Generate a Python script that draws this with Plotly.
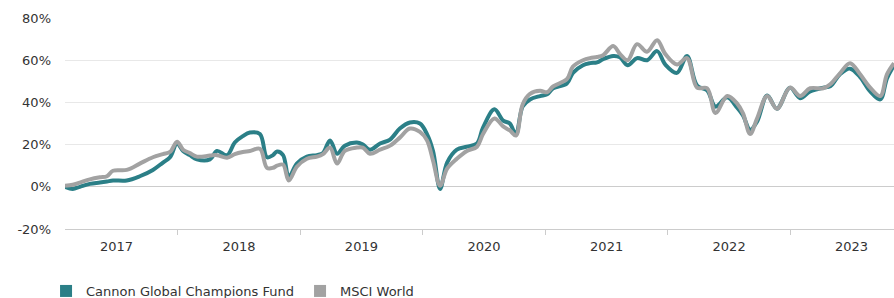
import plotly.graph_objects as go

dates = [
    "2017-02-27", "2017-03-22", "2017-04-12", "2017-05-12", "2017-06-11", "2017-07-02",
    "2017-07-20", "2017-08-30", "2017-10-08", "2017-11-16", "2017-12-16", "2018-01-06",
    "2018-01-27", "2018-02-14", "2018-03-06", "2018-03-27", "2018-05-05", "2018-05-26",
    "2018-06-25", "2018-07-18", "2018-08-11", "2018-09-01", "2018-10-01", "2018-10-22",
    "2018-11-09", "2018-11-21", "2018-12-09", "2018-12-26", "2019-01-19", "2019-02-18",
    "2019-03-20", "2019-04-07", "2019-04-28", "2019-05-19", "2019-06-11", "2019-07-17",
    "2019-08-04", "2019-08-25", "2019-09-24", "2019-10-24", "2019-11-22", "2019-12-22",
    "2020-01-21", "2020-02-11", "2020-02-29", "2020-03-21", "2020-04-11", "2020-05-10",
    "2020-06-09", "2020-07-09", "2020-07-27", "2020-08-30", "2020-09-25", "2020-10-15",
    "2020-11-02", "2020-11-22", "2020-12-14", "2021-01-13", "2021-02-03", "2021-02-21",
    "2021-04-03", "2021-04-21", "2021-05-21", "2021-06-11", "2021-07-02", "2021-07-20",
    "2021-08-19", "2021-09-08", "2021-10-01", "2021-10-29", "2021-11-28", "2021-12-28",
    "2022-01-21", "2022-02-25", "2022-03-27", "2022-04-26", "2022-05-26", "2022-06-20",
    "2022-07-25", "2022-08-23", "2022-09-10", "2022-10-01", "2022-10-22", "2022-11-21",
    "2022-12-20", "2023-01-28", "2023-02-27", "2023-03-29", "2023-05-07", "2023-05-28",
    "2023-06-26", "2023-07-26", "2023-08-25", "2023-09-24", "2023-10-24", "2023-11-13",
    "2023-12-04",
]

fund = [
    0, -1, 0, 1.4, 2, 2.5,
    3, 3, 5, 8, 11.5, 14,
    20.5, 17, 15, 13, 13, 17,
    15, 21, 24, 25.7, 25, 14,
    15, 16.7, 15, 4.7, 11, 14.3,
    15, 16, 22, 15.7, 19.5, 21,
    20, 17.6, 20.5, 22.4, 27.6, 30.5,
    30, 25, 17, -1, 11.5, 17.6,
    19, 20.5, 28, 36.7, 31.4, 30,
    24.8, 38, 41.4, 43, 43.8, 46.7,
    49, 54, 57.6, 58.6, 59, 60.5,
    62, 61.4, 57.6, 61, 60, 64.3,
    58, 54, 62, 48, 45.7, 38,
    42.4, 37.6, 33.8, 27, 31, 43.3,
    37, 47, 42, 45.2, 47, 47.6,
    53.3, 56, 52, 45.2, 41.4, 51.4,
    57.6,
]

msci = [
    0.5, 1, 2, 3.5, 4.5, 5,
    7.6, 8, 11, 14, 15.5, 16.5,
    21.4, 17.6, 16, 14.3, 14.8, 15,
    13.8, 15.5, 16.5, 17, 18, 9,
    9, 10, 10.5, 3, 9.5, 13.3,
    14.3, 15.5, 18.6, 11, 17, 18.6,
    18.6, 15.7, 17.6, 19.5, 23.3, 27.6,
    26, 22, 12.4, 0.5, 8.6, 13.3,
    17, 19, 25, 32.4, 28.6, 26.7,
    24.3, 39, 44, 45.5, 44.8, 47.6,
    51, 57, 60, 61, 61.5, 62.4,
    66.7, 63, 60, 67.6, 64, 69.5,
    63, 58, 61, 47, 46.7, 35,
    43, 39.5, 34.8, 25, 32.4, 43,
    37, 47, 43, 46.7, 46.7, 48.6,
    53.8, 58.6, 53.3, 47, 43, 53.3,
    58.6,
]

series_names = ["Cannon Global Champions Fund", "MSCI World"]
series_colors = ["#2b7f87", "#a2a2a2"]
y_ticks = [-20, 0, 20, 40, 60, 80]
y_tick_labels = ["-20%", "0%", "20%", "40%", "60%", "80%"]

fig = go.Figure()
for vals, name, color in [(fund, series_names[0], series_colors[0]),
                          (msci, series_names[1], series_colors[1])]:
    fig.add_trace(go.Scatter(
        x=dates, y=vals, mode="lines", name=name, showlegend=False,
        line=dict(color=color, width=4, shape="spline", smoothing=1.0),
        hoverinfo="skip",
    ))
# legend proxies (no data)
for name, color in zip(series_names, series_colors):
    fig.add_trace(go.Scatter(
        x=[None], y=[None], mode="markers", name=name,
        marker=dict(symbol="square", size=12, color=color),
    ))

fig.update_layout(
    width=894, height=298,
    margin=dict(l=65, r=0, t=18, b=69, autoexpand=False),
    paper_bgcolor="white", plot_bgcolor="white",
    font=dict(family="DejaVu Sans, Verdana, sans-serif", size=13, color="#333333"),
    legend=dict(
        orientation="h", xref="container", yref="container",
        x=0.0515, y=0.0235, xanchor="left", yanchor="middle",
        font=dict(size=13, color="#333333"),
        entrywidth=209, entrywidthmode="pixels",
        itemclick=False, itemdoubleclick=False,
        bgcolor="rgba(0,0,0,0)",
    ),
    xaxis=dict(
        type="date",
        range=["2017-02-27", "2023-12-04"],
        tickmode="linear", tick0="2017-01-29", dtick="M12",
        tickformat="%Y", ticklabelmode="period",
        showgrid=False, showline=True, linecolor="#cccccc", linewidth=1,
        ticks="outside", ticklen=5, tickcolor="#cccccc", tickwidth=1,
        zeroline=False, fixedrange=True, automargin=False,
    ),
    yaxis=dict(
        range=[-20, 80], tickmode="array", tickvals=y_ticks, ticktext=y_tick_labels,
        showgrid=True, gridcolor="#e8e8e8", gridwidth=1,
        zeroline=True, zerolinecolor="#cccccc", zerolinewidth=1,
        showline=False, ticklabelstandoff=13, fixedrange=True, automargin=False,
    ),
)

fig.write_html(
    "out.html",
    config={"displayModeBar": False, "staticPlot": True},
    post_script="document.body.style.margin='0';document.documentElement.style.overflow='hidden';",
)
